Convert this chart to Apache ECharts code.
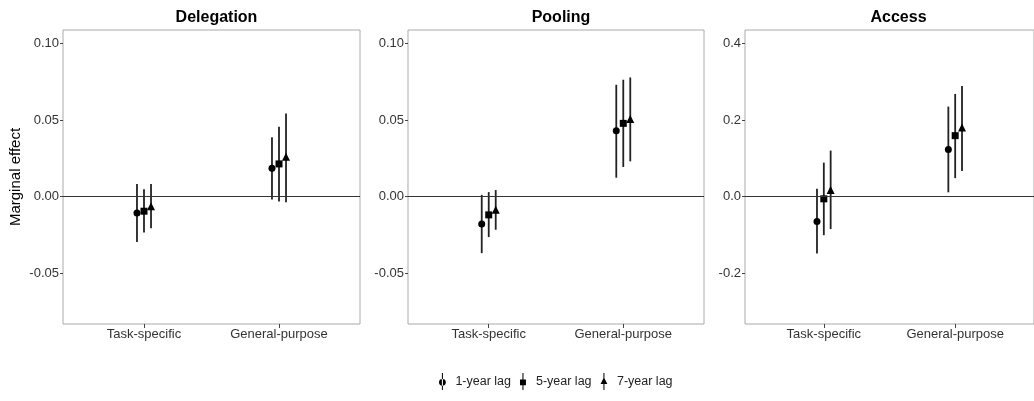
<!DOCTYPE html>
<html>
<head>
<meta charset="utf-8">
<script src="https://cdn.jsdelivr.net/npm/echarts@6/dist/echarts.min.js"></script>
<style>html,body{margin:0;padding:0;background:#fff}#chart{width:1034px;height:401px}</style>
</head>
<body>
<div id="chart"></div>
<script>
// ---- data ----
const categories = ['Task-specific', 'General-purpose'];
const panelTitles = ['Delegation', 'Pooling', 'Access'];
const lagNames = ['1-year lag', '5-year lag', '7-year lag'];
// [category][lag]
const delegationEstimate = [[-0.0107, -0.0096, -0.0064], [0.0184, 0.0213, 0.0259]];
const delegationLower    = [[-0.0298, -0.0235, -0.0208], [-0.0020, -0.0033, -0.0037]];
const delegationUpper    = [[0.0081, 0.0048, 0.0081], [0.0388, 0.0456, 0.0542]];
const poolingEstimate = [[-0.0180, -0.0120, -0.0086], [0.0430, 0.0478, 0.0507]];
const poolingLower    = [[-0.0370, -0.0265, -0.0217], [0.0123, 0.0193, 0.0230]];
const poolingUpper    = [[0.0011, 0.0029, 0.0042], [0.0730, 0.0763, 0.0778]];
const accessEstimate = [[-0.065, -0.006, 0.017], [0.123, 0.159, 0.180]];
const accessLower    = [[-0.149, -0.101, -0.085], [0.011, 0.048, 0.067]];
const accessUpper    = [[0.020, 0.0886, 0.120], [0.235, 0.268, 0.289]];
const delegationTicks = [-0.05, 0, 0.05, 0.10];
const poolingTicks = [-0.05, 0, 0.05, 0.10];
const accessTicks = [-0.2, 0, 0.2, 0.4];

const panelData = [
  {est: delegationEstimate, lo: delegationLower, hi: delegationUpper, ticks: delegationTicks, digits: 2, min: -0.0833, max: 0.1088},
  {est: poolingEstimate, lo: poolingLower, hi: poolingUpper, ticks: poolingTicks, digits: 2, min: -0.0833, max: 0.1088},
  {est: accessEstimate, lo: accessLower, hi: accessUpper, ticks: accessTicks, digits: 1, min: -0.333, max: 0.435}
];

// ---- layout ----
const FONT = 'Liberation Sans, Arial, sans-serif';
const grids = [
  {left: 63, top: 30, width: 297, height: 294},
  {left: 408, top: 30, width: 296, height: 294},
  {left: 745, top: 30, width: 297, height: 294}
];
const dodge = [-0.052, 0, 0.052];
const symbols = ['circle', 'rect', 'triangle'];
const symbolSizes = [7, 7, 8];

const option = {
  animation: false,
  backgroundColor: '#fff',
  textStyle: {fontFamily: FONT},
  title: grids.map((g, i) => ({
    text: panelTitles[i],
    left: g.left + g.width / 2,
    top: 5,
    textAlign: 'center',
    textStyle: {fontFamily: FONT, fontSize: 16, fontWeight: 'bold', color: '#000'}
  })),
  legend: {
    bottom: 6,
    left: 434,
    itemWidth: 8,
    itemHeight: 17,
    itemGap: 9,
    textStyle: {fontFamily: FONT, fontSize: 12.5, color: '#222', padding: [0, 0, 0, 4]},
    data: [
      {name: lagNames[0], icon: 'path://M4.4,0 L5.6,0 L5.6,20 L4.4,20 Z M1,11 A4,4 0 1 0 9,11 A4,4 0 1 0 1,11 Z'},
      {name: lagNames[1], icon: 'path://M4.4,0 L5.6,0 L5.6,20 L4.4,20 Z M1.5,7.5 L8.5,7.5 L8.5,14.5 L1.5,14.5 Z'},
      {name: lagNames[2], icon: 'path://M4.4,0 L5.6,0 L5.6,20 L4.4,20 Z M5,5 L9,13 L1,13 Z'}
    ]
  },
  grid: grids.map(g => Object.assign({show: true, borderColor: '#aaa', borderWidth: 1, backgroundColor: '#fff'}, g)),
  xAxis: grids.map((g, i) => ({
    type: 'value', gridIndex: i, min: 0.4, max: 2.6,
    axisLine: {show: false, onZero: false},
    splitLine: {show: false},
    axisTick: {show: true, length: 4, lineStyle: {color: '#444'}, customValues: [1, 2]},
    axisLabel: {customValues: [1, 2], margin: 4, fontSize: 13, color: '#333', fontFamily: FONT,
      formatter: v => categories[Math.round(v) - 1] || ''}
  })),
  yAxis: panelData.map((p, i) => ({
    type: 'value', gridIndex: i, min: p.min, max: p.max,
    name: i === 0 ? 'Marginal effect' : '',
    nameLocation: 'middle', nameGap: 40,
    nameTextStyle: {fontFamily: FONT, fontSize: 15, color: '#000'},
    axisLine: {show: false, onZero: false},
    splitLine: {show: false},
    axisTick: {show: true, length: 3, lineStyle: {color: '#444'}, customValues: p.ticks},
    axisLabel: {customValues: p.ticks, margin: 4, fontSize: 13, color: '#333', fontFamily: FONT,
      formatter: v => v.toFixed(p.digits)}
  })),
  series: []
};

panelData.forEach((p, pi) => {
  lagNames.forEach((lag, li) => {
    const barData = categories.map((c, ci) => [ci + 1 + dodge[li], p.lo[ci][li], p.hi[ci][li]]);
    option.series.push({
      type: 'custom', name: lag, xAxisIndex: pi, yAxisIndex: pi,
      itemStyle: {color: '#000'},
      z: 3,
      renderItem: (params, api) => {
        const a = api.coord([api.value(0), api.value(1)]);
        const b = api.coord([api.value(0), api.value(2)]);
        return {type: 'line', shape: {x1: a[0], y1: a[1], x2: b[0], y2: b[1]},
          style: {stroke: '#222', lineWidth: 1.8}};
      },
      encode: {x: 0, y: [1, 2]},
      data: barData
    });
    const pointData = categories.map((c, ci) => [ci + 1 + dodge[li], p.est[ci][li]]);
    const s = {
      type: 'scatter', name: lag, xAxisIndex: pi, yAxisIndex: pi,
      symbol: symbols[li], symbolSize: symbolSizes[li],
      itemStyle: {color: '#000', opacity: 1},
      z: 4,
      data: pointData
    };
    if (li === 0) {
      s.markLine = {silent: true, symbol: 'none', label: {show: false},
        lineStyle: {color: '#333', width: 1, type: 'solid'},
        data: [{yAxis: 0}]};
    }
    option.series.push(s);
  });
});

const chart = echarts.init(document.getElementById('chart'), null, {renderer: 'canvas'});
chart.setOption(option);
</script>
</body>
</html>
